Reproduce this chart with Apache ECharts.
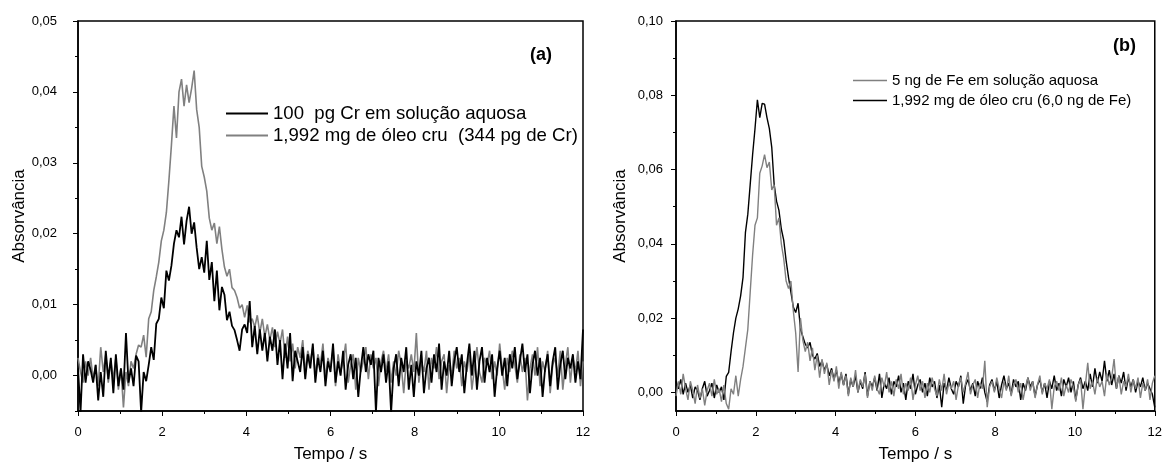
<!DOCTYPE html>
<html><head><meta charset="utf-8">
<script src="https://cdn.jsdelivr.net/npm/echarts@6/dist/echarts.min.js"></script>
<style>html,body{margin:0;padding:0;background:#fff}#c{width:1165px;height:471px}</style>
</head><body><div id="c"></div><script>
// sampling grid (s)
const tStep = 0.06;
const nPts = 201;
const time = Array.from({length: nPts}, (_, i) => Math.round(i * tStep * 100) / 100);

const xTicks = [0, 2, 4, 6, 8, 10, 12];
const yTicksA = [0, 0.01, 0.02, 0.03, 0.04, 0.05];
const yMinorA = [-0.005, 0.005, 0.015, 0.025, 0.035, 0.045];
const yTicksB = [0, 0.02, 0.04, 0.06, 0.08, 0.10];
const yMinorB = [0.01, 0.03, 0.05, 0.07, 0.09];

const nameCrAq = '100  pg Cr em solução aquosa';
const nameCrOil = '1,992 mg de óleo cru  (344 pg de Cr)';
const nameFeAq = '5 ng de Fe em solução aquosa';
const nameFeOil = '1,992 mg de óleo cru (6,0 ng de Fe)';

// (a) 100 pg Cr aqueous
const crAqueous = [
0.0010,-0.0052,0.0030,-0.0010,0.0020,0.0008,-0.0010,0.0015,-0.0035,0.0005,
-0.0030,0.0035,-0.0005,0.0025,-0.0025,0.0030,-0.0015,0.0010,-0.0020,0.0060,
-0.0010,0.0010,-0.0015,0.0028,0.0020,-0.0052,0.0005,-0.0008,0.0015,0.0040,
0.0022,0.0073,0.0080,0.0110,0.0095,0.0148,0.0134,0.0155,0.0186,0.0205,
0.0195,0.0224,0.0185,0.0218,0.0238,0.0200,0.0216,0.0180,0.0150,0.0167,
0.0145,0.0190,0.0135,0.0160,0.0105,0.0148,0.0092,0.0125,0.0114,0.0078,
0.0090,0.0070,0.0064,0.0050,0.0035,0.0065,0.0072,0.0060,0.0105,0.0040,
0.0070,0.0030,0.0065,0.0035,0.0060,0.0020,0.0055,0.0035,0.0065,0.0015,
0.0050,-0.0005,0.0045,0.0010,0.0060,-0.0008,0.0035,0.0020,0.0005,0.0040,
-0.0005,0.0030,0.0010,0.0045,-0.0010,0.0025,0.0005,0.0035,-0.0015,0.0020,
0.0005,0.0045,-0.0010,0.0020,0.0000,0.0035,-0.0020,0.0015,0.0030,-0.0005,
0.0025,-0.0030,0.0010,0.0040,0.0005,0.0030,0.0015,0.0035,-0.0052,0.0025,
0.0005,0.0030,-0.0010,0.0020,-0.0052,0.0010,0.0030,-0.0015,0.0025,0.0005,
0.0040,-0.0020,0.0015,-0.0030,0.0020,0.0000,0.0035,-0.0025,0.0010,0.0025,
-0.0010,0.0030,0.0005,0.0045,-0.0020,0.0020,0.0000,0.0035,-0.0015,0.0020,
0.0040,0.0005,0.0030,-0.0025,0.0015,0.0045,0.0000,0.0035,-0.0020,0.0020,
0.0040,-0.0010,0.0025,0.0005,0.0030,-0.0030,0.0010,0.0035,0.0000,0.0025,
-0.0015,0.0030,0.0010,0.0040,-0.0005,0.0020,0.0045,0.0005,0.0030,-0.0025,
0.0015,0.0035,0.0000,0.0025,-0.0030,0.0010,0.0030,-0.0015,0.0020,0.0040,
-0.0020,0.0015,0.0035,-0.0005,0.0025,0.0010,0.0030,-0.0010,0.0020,-0.0005,
0.0065];

// (a) 1,992 mg crude oil (344 pg Cr)
const crOil = [
0.0025,0.0005,-0.0010,0.0020,0.0000,0.0025,-0.0005,0.0015,-0.0015,0.0040,
0.0005,0.0030,-0.0010,0.0020,-0.0005,0.0025,-0.0020,0.0010,-0.0045,0.0005,
-0.0015,0.0020,0.0010,0.0030,0.0043,0.0040,0.0057,0.0026,0.0080,0.0090,
0.0120,0.0139,0.0160,0.0190,0.0205,0.0230,0.0275,0.0325,0.0380,0.0335,
0.0400,0.0418,0.0380,0.0410,0.0385,0.0405,0.0430,0.0375,0.0350,0.0295,
0.0280,0.0260,0.0222,0.0205,0.0215,0.0186,0.0210,0.0178,0.0153,0.0140,
0.0150,0.0124,0.0120,0.0110,0.0095,0.0100,0.0082,0.0099,0.0075,0.0080,
0.0068,0.0085,0.0060,0.0080,0.0055,0.0072,0.0050,0.0068,0.0040,0.0062,
0.0045,0.0065,0.0025,0.0055,0.0020,0.0045,0.0010,0.0040,0.0025,0.0050,
0.0005,0.0035,0.0020,0.0040,0.0000,0.0030,0.0015,0.0045,-0.0005,0.0025,
0.0010,0.0035,-0.0015,0.0030,0.0005,0.0020,0.0045,-0.0010,0.0015,0.0030,
-0.0020,0.0025,0.0005,0.0020,0.0040,-0.0005,0.0030,0.0010,0.0025,-0.0015,
0.0020,0.0035,0.0005,0.0030,-0.0010,0.0020,0.0000,0.0035,0.0015,-0.0025,
0.0020,0.0010,0.0030,0.0005,0.0060,-0.0010,0.0020,0.0005,0.0035,-0.0020,
0.0025,0.0010,0.0040,-0.0005,0.0020,0.0030,-0.0025,0.0015,0.0000,0.0035,
0.0010,0.0025,-0.0015,0.0020,0.0005,0.0030,-0.0020,0.0010,0.0040,0.0005,
-0.0010,0.0025,0.0015,0.0035,-0.0005,0.0020,0.0000,0.0045,0.0010,-0.0020,
0.0025,0.0005,0.0035,0.0015,-0.0010,0.0030,0.0005,0.0025,-0.0035,0.0010,
0.0030,0.0000,0.0040,-0.0015,0.0020,0.0005,0.0035,-0.0025,0.0015,0.0025,
0.0000,0.0035,-0.0020,0.0015,0.0040,-0.0010,0.0025,0.0005,0.0035,-0.0015,
0.0020];

// (b) 5 ng Fe aqueous
const feAqueous = [
-0.0010,0.0030,-0.0005,0.0050,0.0010,-0.0020,0.0030,0.0005,-0.0030,0.0020,
-0.0015,0.0010,-0.0035,0.0005,0.0025,-0.0010,0.0035,-0.0005,0.0010,-0.0025,
0.0020,-0.0030,-0.0045,0.0010,-0.0005,0.0045,-0.0010,0.0035,0.0070,0.0120,
0.0170,0.0270,0.0370,0.0450,0.0470,0.0590,0.0610,0.0640,0.0605,0.0620,
0.0545,0.0560,0.0450,0.0470,0.0400,0.0360,0.0300,0.0280,0.0300,0.0220,
0.0160,0.0055,0.0200,0.0140,0.0110,0.0135,0.0085,0.0120,0.0060,0.0100,
0.0040,0.0090,0.0050,0.0080,0.0020,0.0060,0.0030,0.0070,0.0010,0.0055,
0.0020,0.0045,-0.0010,0.0040,0.0015,0.0060,0.0000,0.0035,0.0015,0.0050,
-0.0015,0.0030,0.0005,0.0045,0.0010,-0.0005,0.0040,0.0015,0.0055,0.0000,
0.0030,-0.0010,0.0035,0.0010,0.0050,-0.0005,0.0025,0.0005,0.0040,-0.0020,
0.0020,0.0045,0.0005,0.0030,-0.0015,0.0025,0.0000,0.0040,0.0010,-0.0010,
0.0035,0.0005,0.0050,-0.0005,0.0025,0.0010,0.0030,-0.0020,0.0020,0.0040,
0.0000,0.0025,0.0055,-0.0005,0.0020,0.0035,-0.0015,0.0025,0.0010,0.0085,
-0.0040,0.0015,0.0030,0.0000,0.0040,0.0010,-0.0015,0.0030,0.0005,0.0045,
-0.0010,0.0020,0.0035,0.0000,0.0025,-0.0020,0.0015,0.0040,0.0005,0.0030,
-0.0015,0.0020,0.0045,-0.0005,0.0025,0.0010,0.0035,-0.0045,0.0015,0.0030,
0.0005,0.0040,-0.0010,0.0020,0.0000,0.0035,0.0015,-0.0025,0.0020,0.0035,
-0.0045,0.0020,0.0080,0.0010,0.0030,-0.0005,0.0040,0.0015,0.0030,-0.0010,
0.0050,0.0020,0.0040,0.0090,0.0010,0.0045,-0.0005,0.0030,0.0015,0.0050,
0.0000,0.0035,0.0010,0.0040,-0.0015,0.0025,0.0005,0.0035,-0.0020,0.0025,
0.0045];

// (b) 1,992 mg crude oil (6,0 ng Fe)
const feOil = [
0.0030,0.0010,0.0035,-0.0005,0.0025,0.0000,0.0020,-0.0015,0.0015,0.0005,
-0.0020,0.0010,0.0030,-0.0010,0.0005,0.0025,-0.0015,0.0020,0.0000,0.0015,
-0.0020,0.0043,0.0054,0.0110,0.0160,0.0200,0.0225,0.0260,0.0310,0.0430,
0.0480,0.0560,0.0640,0.0710,0.0788,0.0740,0.0778,0.0776,0.0740,0.0710,
0.0660,0.0560,0.0515,0.0490,0.0440,0.0410,0.0355,0.0310,0.0270,0.0230,
0.0215,0.0240,0.0170,0.0150,0.0130,0.0120,0.0135,0.0100,0.0090,0.0105,
0.0070,0.0085,0.0060,0.0075,0.0045,0.0065,0.0035,0.0060,0.0025,0.0050,
0.0020,0.0050,-0.0005,0.0035,0.0015,0.0045,0.0000,0.0030,0.0010,0.0055,
-0.0010,0.0030,0.0015,0.0040,0.0005,0.0050,-0.0015,0.0025,0.0010,0.0040,
-0.0005,0.0030,0.0015,0.0045,0.0000,0.0025,-0.0020,0.0030,0.0010,0.0050,
-0.0005,0.0020,0.0035,0.0000,0.0025,-0.0010,0.0040,0.0015,0.0030,-0.0015,
0.0020,-0.0040,0.0025,0.0005,0.0040,0.0010,-0.0005,0.0030,0.0015,0.0045,
-0.0030,0.0020,0.0035,0.0005,0.0025,-0.0010,0.0030,0.0010,0.0040,0.0000,
-0.0025,0.0020,0.0035,0.0005,0.0030,-0.0015,0.0020,0.0045,0.0010,0.0025,
-0.0005,0.0035,0.0015,0.0030,-0.0020,0.0025,0.0005,0.0040,0.0015,0.0030,
-0.0010,0.0020,0.0035,0.0000,0.0025,-0.0015,0.0030,0.0010,0.0045,0.0005,
0.0025,-0.0010,0.0035,0.0015,0.0040,0.0000,0.0030,-0.0020,0.0020,0.0040,
0.0010,0.0030,0.0005,0.0050,0.0015,0.0065,0.0025,0.0055,0.0030,0.0085,
0.0030,0.0060,0.0020,0.0050,0.0010,0.0045,0.0025,0.0055,0.0005,0.0040,
0.0015,0.0035,0.0000,0.0030,0.0015,0.0040,0.0005,0.0025,0.0010,-0.0005,
-0.0040];

const FONT = 'Liberation Sans';
const BLACK = '#000000';
const GRAY = '#808080';
const pairs = arr => arr.map((v, i) => [time[i], v]);
const fmt = v => v.toFixed(2).replace('.', ',');

function xAxisFor(gi) {
  return {
    gridIndex: gi, type: 'value', min: 0, max: 12, interval: 2,
    axisLine: {onZero: false, lineStyle: {color: BLACK, width: 1.5}},
    axisTick: {show: true, length: 5, lineStyle: {color: BLACK, width: 1}},
    minorTick: {show: true, splitNumber: 2, length: 3, lineStyle: {color: BLACK, width: 1}},
    splitLine: {show: false}, minorSplitLine: {show: false},
    axisLabel: {color: BLACK, fontSize: 13, fontFamily: FONT, margin: 15, formatter: v => String(v)},
    name: 'Tempo / s', nameLocation: 'middle', nameGap: 35,
    nameTextStyle: {color: BLACK, fontSize: 17, fontFamily: FONT}
  };
}
function yMain(gi, max, ticks, margin) {
  return {
    gridIndex: gi, type: 'value', min: -0.005, max: max, position: 'left',
    axisLine: {show: true, onZero: false, lineStyle: {color: BLACK, width: 1.5}},
    axisTick: {show: true, length: 5, customValues: ticks, lineStyle: {color: BLACK, width: 1}},
    axisLabel: {color: BLACK, fontSize: 13, fontFamily: FONT, margin: margin, customValues: ticks, formatter: fmt},
    splitLine: {show: false},
    name: 'Absorvância', nameLocation: 'middle', nameGap: 47,
    nameTextStyle: {color: BLACK, fontSize: 17, fontFamily: FONT}
  };
}
function yMinor(gi, max, ticks) {
  return {
    gridIndex: gi, type: 'value', min: -0.005, max: max, position: 'left',
    axisLine: {show: false, onZero: false},
    axisTick: {show: true, length: 3, customValues: ticks, lineStyle: {color: BLACK, width: 1}},
    axisLabel: {show: false},
    splitLine: {show: false}
  };
}

const option = {
  animation: false,
  backgroundColor: '#ffffff',
  textStyle: {fontFamily: FONT},
  grid: [
    {left: 78, top: 21, width: 505, height: 390, show: true, borderColor: BLACK, borderWidth: 1.5, backgroundColor: 'transparent'},
    {left: 676, top: 21, width: 480, height: 390, show: true, borderColor: BLACK, borderWidth: 1.5, backgroundColor: 'transparent'}
  ],
  title: [
    {text: '(a)', left: 530, top: 46, padding: 0, textStyle: {fontSize: 18, fontWeight: 'bold', color: BLACK, fontFamily: FONT}},
    {text: '(b)', left: 1113, top: 37, padding: 0, textStyle: {fontSize: 18, fontWeight: 'bold', color: BLACK, fontFamily: FONT}}
  ],
  legend: [
    {data: [nameCrAq, nameCrOil], orient: 'vertical', left: 226, top: 104, padding: 0,
     icon: 'rect', itemWidth: 42, itemHeight: 2, itemGap: 3, selectedMode: false,
     textStyle: {fontSize: 18.6, color: BLACK, fontFamily: FONT}},
    {data: [nameFeAq, nameFeOil], orient: 'vertical', left: 853, top: 73, padding: 0,
     icon: 'rect', itemWidth: 34, itemHeight: 1.5, itemGap: 5, selectedMode: false,
     textStyle: {fontSize: 15, color: BLACK, fontFamily: FONT}}
  ],
  xAxis: [xAxisFor(0), xAxisFor(1)],
  yAxis: [
    yMain(0, 0.05, yTicksA, 21), yMinor(0, 0.05, yMinorA),
    yMain(1, 0.10, yTicksB, 13), yMinor(1, 0.10, yMinorB)
  ],
  series: [
    {type: 'line', name: nameCrOil, xAxisIndex: 0, yAxisIndex: 0, data: pairs(crOil), symbol: 'none',
     lineStyle: {color: GRAY, width: 1.6}, itemStyle: {color: GRAY}},
    {type: 'line', name: nameCrAq, xAxisIndex: 0, yAxisIndex: 0, data: pairs(crAqueous), symbol: 'none',
     lineStyle: {color: BLACK, width: 1.8}, itemStyle: {color: BLACK}},
    {type: 'line', name: nameFeOil, xAxisIndex: 1, yAxisIndex: 2, data: pairs(feOil), symbol: 'none',
     lineStyle: {color: BLACK, width: 1.4}, itemStyle: {color: BLACK}},
    {type: 'line', name: nameFeAq, xAxisIndex: 1, yAxisIndex: 2, data: pairs(feAqueous), symbol: 'none',
     lineStyle: {color: GRAY, width: 1.4}, itemStyle: {color: GRAY}}
  ]
};
const chart = echarts.init(document.getElementById('c'), null, {renderer: 'canvas'});
chart.setOption(option);
</script></body></html>
